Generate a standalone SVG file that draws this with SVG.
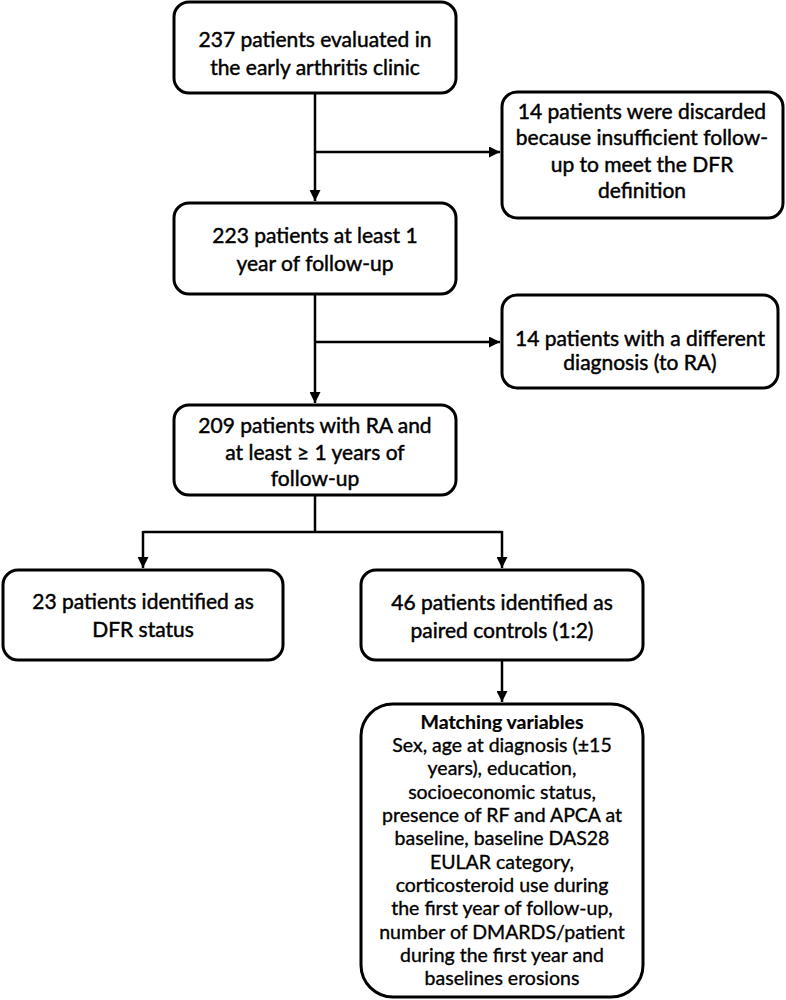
<svg xmlns="http://www.w3.org/2000/svg" width="786" height="1000" viewBox="0 0 786 1000">
<defs>
<marker id="ah" viewBox="0 0 10 10" refX="10" refY="5" markerWidth="11" markerHeight="11" markerUnits="userSpaceOnUse" orient="auto">
<path d="M0,0 L10,5 L0,10 Z" fill="#000"/>
</marker>
<style>
.box{fill:#fff;stroke:#000;stroke-width:3}
.t{font-family:Lato,"Liberation Sans",sans-serif;font-size:21px;fill:#000;stroke:#000;stroke-width:0.45;text-anchor:middle}
.s{font-family:Lato,"Liberation Sans",sans-serif;font-size:19.5px;fill:#000;stroke:#000;stroke-width:0.35;text-anchor:middle}
.b{font-weight:700;stroke-width:0.2}
.c{fill:none;stroke:#000;stroke-width:2.5}
</style>
</defs>
<rect width="786" height="1000" fill="#fff"/>
<g id="connectors">
<path class="c" d="M315,93 V201" marker-end="url(#ah)"/>
<path class="c" d="M315,152 H500" marker-end="url(#ah)"/>
<path class="c" d="M315,294 V403" marker-end="url(#ah)"/>
<path class="c" d="M315,342 H500" marker-end="url(#ah)"/>
<path class="c" d="M315,495 V532"/>
<path class="c" d="M143,532 H502"/>
<path class="c" d="M143,531 V568" marker-end="url(#ah)"/>
<path class="c" d="M502,531 V568" marker-end="url(#ah)"/>
<path class="c" d="M502,660 V702" marker-end="url(#ah)"/>
</g>
<g id="n1">
<rect class="box" x="174" y="2" width="282" height="91" rx="15"/>
<text class="t" x="315" y="47">237 patients evaluated in</text>
<text class="t" x="315" y="75">the early arthritis clinic</text>
</g>
<g id="n2">
<rect class="box" x="502" y="92" width="281" height="126" rx="15"/>
<text class="t" x="642" y="119">14 patients were discarded</text>
<text class="t" x="642" y="145">because insufficient follow-</text>
<text class="t" x="642" y="172">up to meet the DFR</text>
<text class="t" x="642" y="198">definition</text>
</g>
<g id="n3">
<rect class="box" x="174" y="203" width="282" height="91" rx="15"/>
<text class="t" x="315" y="243">223 patients at least 1</text>
<text class="t" x="315" y="271">year of follow-up</text>
</g>
<g id="n4">
<rect class="box" x="502" y="295" width="276" height="93" rx="15"/>
<text class="t" x="640" y="346">14 patients with a different</text>
<text class="t" x="640" y="370">diagnosis (to RA)</text>
</g>
<g id="n5">
<rect class="box" x="174" y="405" width="282" height="90" rx="15"/>
<text class="t" x="315" y="433">209 patients with RA and</text>
<text class="t" x="315" y="460">at least ≥ 1 years of</text>
<text class="t" x="315" y="486">follow-up</text>
</g>
<g id="n6">
<rect class="box" x="3" y="570" width="280" height="90" rx="15"/>
<text class="t" x="143" y="609">23 patients identified as</text>
<text class="t" x="143" y="637">DFR status</text>
</g>
<g id="n7">
<rect class="box" x="361" y="570" width="282" height="90" rx="15"/>
<text class="t" x="502" y="610">46 patients identified as</text>
<text class="t" x="502" y="638">paired controls (1:2)</text>
</g>
<g id="n8">
<rect class="box" x="361" y="704" width="282" height="293" rx="32"/>
<text class="s b" x="502" y="729">Matching variables</text>
<text class="s" x="502" y="752">Sex, age at diagnosis (±15</text>
<text class="s" x="502" y="775">years), education,</text>
<text class="s" x="502" y="799">socioeconomic status,</text>
<text class="s" x="502" y="822">presence of RF and APCA at</text>
<text class="s" x="502" y="845">baseline, baseline DAS28</text>
<text class="s" x="502" y="869">EULAR category,</text>
<text class="s" x="502" y="892">corticosteroid use during</text>
<text class="s" x="502" y="915">the first year of follow-up,</text>
<text class="s" x="502" y="939">number of DMARDS/patient</text>
<text class="s" x="502" y="962">during the first year and</text>
<text class="s" x="502" y="985">baselines erosions</text>
</g>
</svg>
